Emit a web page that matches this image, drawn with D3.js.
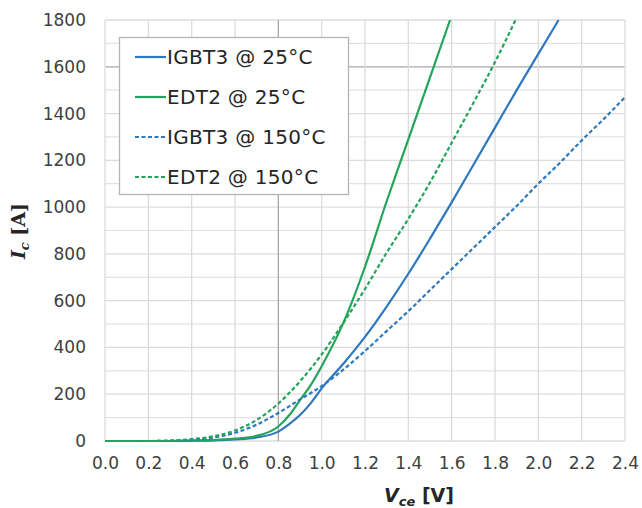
<!DOCTYPE html>
<html lang="en">
<head>
    <meta charset="UTF-8">
    <title>Ic vs Vce</title>
    <script src="https://cdn.jsdelivr.net/npm/d3@7"></script>
    <style>
        body{
            margin:0px;
            background:#ffffff;
        }
        svg{
            position:absolute;
            left:0px;
            top:0px;
        }
    </style>
</head>
<body>
    <svg id="chart" width="642" height="508"></svg>
    <script>
        // Vce [V] and Ic [A]
        var vce = [0.0, 0.2, 0.3, 0.4, 0.5, 0.6, 0.7, 0.8, 0.85, 0.9, 0.95, 1.0, 1.1, 1.2, 1.3, 1.4, 1.5, 1.6, 1.7, 1.8, 1.9, 2.0, 2.1, 2.2, 2.3, 2.4]

        var igbt3_25  = [0, 0, 0, 1, 3, 7, 15, 40, 72, 111, 162, 225, 330, 445, 575, 715, 865, 1020, 1180, 1340, 1500, 1655, 1810]
        var edt2_25   = [0, 0, 0, 2, 4, 10, 22, 62, 110, 175, 240, 320, 505, 745, 1025, 1290, 1555, 1820]
        var igbt3_150 = [0, 0, 1, 5, 15, 35, 70, 120, 148, 178, 205, 235, 305, 385, 470, 555, 645, 735, 825, 915, 1005, 1100, 1190, 1285, 1375, 1470]
        var edt2_150  = [0, 0, 2, 8, 20, 45, 90, 160, 205, 255, 310, 370, 505, 650, 805, 950, 1105, 1275, 1445, 1620, 1810]

        var seriesNames = ["IGBT3 @ 25°C", "EDT2 @ 25°C", "IGBT3 @ 150°C", "EDT2 @ 150°C"]
        var seriesValues = [igbt3_25, edt2_25, igbt3_150, edt2_150]

        var xTicks = d3.range(0, 2.41, 0.2)
        var yTicks = d3.range(0, 1801, 200)
        var yMinor = d3.range(100, 1800, 200)

        var blue = "#2e78bf"
        var green = "#22a45b"
        var colors = [blue, green, blue, green]
        var dashed = [false, false, true, true]

        var svg = d3.select("#chart")
        var plotLeft = 105, plotRight = 625, plotTop = 20, plotBottom = 441

        var x = d3.scaleLinear().domain([0, 2.4]).range([plotLeft, plotRight])
        var y = d3.scaleLinear().domain([0, 1800]).range([plotBottom, plotTop])

        //grid first, minor then major
        svg.append("g").selectAll("line").data(yMinor).enter().append("line")
            .attr("x1", plotLeft).attr("x2", plotRight)
            .attr("y1", function(d){ return y(d) }).attr("y2", function(d){ return y(d) })
            .attr("stroke", "#e3e3e3").attr("stroke-width", 1.2)

        svg.append("g").selectAll("line").data(yTicks).enter().append("line")
            .attr("x1", plotLeft).attr("x2", plotRight)
            .attr("y1", function(d){ return y(d) }).attr("y2", function(d){ return y(d) })
            .attr("stroke", function(d){ return d == 1600 ? "#a8a8a8" : "#dcdcdc" })
            .attr("stroke-width", 1.3)

        svg.append("g").selectAll("line").data(xTicks).enter().append("line")
            .attr("y1", plotTop).attr("y2", plotBottom)
            .attr("x1", function(d){ return x(d) }).attr("x2", function(d){ return x(d) })
            .attr("stroke", function(d){ return Math.abs(d - 0.8) < 1e-6 ? "#a8a8a8" : "#dcdcdc" })
            .attr("stroke-width", 1.3)

        //tick labels through the axes, no domain or tick lines
        svg.append("g").attr("transform", "translate(0," + plotBottom + ")")
            .call(d3.axisBottom(x).tickValues(xTicks).tickFormat(d3.format(".1f")).tickSize(0).tickPadding(16))
        svg.append("g").attr("transform", "translate(" + plotLeft + ",0)")
            .call(d3.axisLeft(y).tickValues(yTicks).tickFormat(d3.format("d")).tickSize(0).tickPadding(19))
        svg.selectAll(".domain").remove()
        svg.selectAll(".tick text")
            .attr("font-family", "DejaVu Sans, Verdana, sans-serif")
            .attr("font-size", 17)
            .attr("fill", "#404040")

        //curves
        var lineFunction = d3.line()
            .x(function(d){ return x(d[0]) })
            .y(function(d){ return y(d[1]) })
            .curve(d3.curveMonotoneX)

        seriesValues.forEach(function(vals, i){
            var pts = vals.map(function(v, j){ return [vce[j], v] })
            // clip the last segment at the top of the plot
            var last = pts[pts.length - 1], prev = pts[pts.length - 2]
            if (last[1] > 1800) {
                var t = (1800 - prev[1]) / (last[1] - prev[1])
                pts[pts.length - 1] = [prev[0] + t * (last[0] - prev[0]), 1800]
            }
            svg.append("path")
                .attr("d", lineFunction(pts))
                .attr("stroke", colors[i])
                .attr("stroke-width", 2.2)
                .style("stroke-dasharray", dashed[i] ? "4 2.5" : null)
                .style("fill", "none")
        })

        //legend
        var legend = svg.append("g")
        legend.append("rect")
            .attr("x", 119.5).attr("y", 37.5).attr("width", 229).attr("height", 157)
            .attr("fill", "#ffffff").attr("stroke", "#b4b4b4").attr("stroke-width", 1.3)

        seriesNames.forEach(function(name, i){
            var ly = 57 + i * 40
            legend.append("line")
                .attr("x1", 135).attr("x2", 166).attr("y1", ly).attr("y2", ly)
                .attr("stroke", colors[i]).attr("stroke-width", 2.2)
                .style("stroke-dasharray", dashed[i] ? "4 2.5" : null)
            legend.append("text")
                .attr("x", 167).attr("y", ly)
                .attr("dy", "0.36em")
                .attr("font-family", "DejaVu Sans, Verdana, sans-serif")
                .attr("font-size", 20)
                .attr("letter-spacing", 0.3)
                .attr("fill", "#262626")
                .text(name)
        })

        //axis titles
        var xt = svg.append("text")
            .attr("x", 419).attr("y", 502)
            .attr("text-anchor", "middle")
            .attr("font-family", "DejaVu Sans, Verdana, sans-serif")
            .attr("font-weight", "bold")
            .attr("font-size", 19)
            .attr("fill", "#262626")
        xt.append("tspan").attr("font-style", "italic").text("V")
        xt.append("tspan").attr("font-style", "italic").attr("font-size", 13).attr("dy", 4).text("ce")
        xt.append("tspan").attr("dy", -4).text(" [V]")

        var yt = svg.append("text")
            .attr("transform", "translate(25,231) rotate(-90)")
            .attr("text-anchor", "middle")
            .attr("font-family", "DejaVu Serif, serif")
            .attr("font-weight", "bold")
            .attr("font-size", 19)
            .attr("fill", "#262626")
        yt.append("tspan").attr("font-style", "italic").text("I")
        yt.append("tspan").attr("font-style", "italic").attr("font-size", 13).attr("dy", 4).text("c")
        yt.append("tspan").attr("dy", -4).text(" [A]")
    </script>
</body>
</html>
